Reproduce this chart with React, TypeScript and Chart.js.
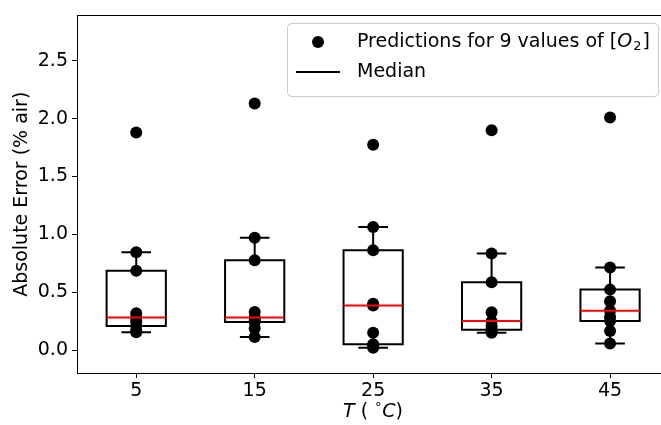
import { useEffect, useRef } from "react";
import { Chart, registerables } from "chart.js";

Chart.register(...registerables);

// ---- data ----
const temperatures = [5, 15, 25, 35, 45];
const predT5 = [1.88, 0.845, 0.686, 0.32, 0.283, 0.25, 0.208, 0.17, 0.154];
const predT15 = [2.13, 0.971, 0.777, 0.33, 0.283, 0.26, 0.243, 0.19, 0.114];
const predT25 = [1.775, 1.063, 0.863, 0.4, 0.386, 0.151, 0.051, 0.04, 0.02];
const predT35 = [1.9, 0.834, 0.586, 0.328, 0.251, 0.21, 0.177, 0.165, 0.151];
const predT45 = [2.01, 0.714, 0.523, 0.423, 0.34, 0.286, 0.251, 0.165, 0.057];
const predictions = [predT5, predT15, predT25, predT35, predT45];

const whiskerLow = [0.154, 0.114, 0.02, 0.151, 0.057];
const quartile1 = [0.208, 0.243, 0.051, 0.177, 0.251];
const medians = [0.283, 0.283, 0.386, 0.251, 0.34];
const quartile3 = [0.686, 0.777, 0.863, 0.586, 0.523];
const whiskerHigh = [0.845, 0.971, 1.063, 0.834, 0.714];

const yTicks = [0, 0.5, 1.0, 1.5, 2.0, 2.5];
const BOX_WIDTH = 5;

const FONT = '"DejaVu Sans", "Liberation Sans", sans-serif';
const FS = 19;

const boxPlugin = {
  id: "boxes",
  beforeDatasetsDraw(chart: any) {
    const { ctx, scales } = chart;
    const x = scales.x;
    const y = scales.y;
    ctx.save();
    ctx.strokeStyle = "#000";
    ctx.lineWidth = 2;
    temperatures.forEach((t, i) => {
      const l = x.getPixelForValue(t - BOX_WIDTH / 2);
      const r = x.getPixelForValue(t + BOX_WIDTH / 2);
      const c = x.getPixelForValue(t);
      const cl = x.getPixelForValue(t - BOX_WIDTH / 4);
      const cr = x.getPixelForValue(t + BOX_WIDTH / 4);
      const yq1 = y.getPixelForValue(quartile1[i]);
      const yq3 = y.getPixelForValue(quartile3[i]);
      const ylo = y.getPixelForValue(whiskerLow[i]);
      const yhi = y.getPixelForValue(whiskerHigh[i]);
      ctx.beginPath();
      ctx.rect(l, yq3, r - l, yq1 - yq3);
      ctx.moveTo(c, yq3);
      ctx.lineTo(c, yhi);
      ctx.moveTo(c, yq1);
      ctx.lineTo(c, ylo);
      ctx.moveTo(cl, yhi);
      ctx.lineTo(cr, yhi);
      ctx.moveTo(cl, ylo);
      ctx.lineTo(cr, ylo);
      ctx.stroke();
    });
    ctx.restore();
  },
  afterDatasetsDraw(chart: any) {
    const { ctx, scales } = chart;
    const x = scales.x;
    const y = scales.y;
    ctx.save();
    ctx.strokeStyle = "#ff0000";
    ctx.lineWidth = 2;
    temperatures.forEach((t, i) => {
      const l = x.getPixelForValue(t - BOX_WIDTH / 2);
      const r = x.getPixelForValue(t + BOX_WIDTH / 2);
      const ym = y.getPixelForValue(medians[i]);
      ctx.beginPath();
      ctx.moveTo(l, ym);
      ctx.lineTo(r, ym);
      ctx.stroke();
    });
    ctx.restore();
  },
  afterDraw(chart: any) {
    const { ctx, chartArea } = chart;
    ctx.save();
    // top spine
    ctx.strokeStyle = "#000";
    ctx.lineWidth = 1;
    ctx.beginPath();
    ctx.moveTo(chartArea.left, Math.round(chartArea.top) + 0.5);
    ctx.lineTo(chartArea.right, Math.round(chartArea.top) + 0.5);
    ctx.stroke();

    // legend
    const lx = 287.5, ly = 23.5, lw = 371, lh = 73, rad = 4;
    ctx.beginPath();
    ctx.moveTo(lx + rad, ly);
    ctx.lineTo(lx + lw - rad, ly);
    ctx.quadraticCurveTo(lx + lw, ly, lx + lw, ly + rad);
    ctx.lineTo(lx + lw, ly + lh - rad);
    ctx.quadraticCurveTo(lx + lw, ly + lh, lx + lw - rad, ly + lh);
    ctx.lineTo(lx + rad, ly + lh);
    ctx.quadraticCurveTo(lx, ly + lh, lx, ly + lh - rad);
    ctx.lineTo(lx, ly + rad);
    ctx.quadraticCurveTo(lx, ly, lx + rad, ly);
    ctx.closePath();
    ctx.fillStyle = "rgba(255,255,255,0.8)";
    ctx.fill();
    ctx.strokeStyle = "#cccccc";
    ctx.stroke();

    const row1 = 42, row2 = 72;
    ctx.fillStyle = "#000";
    ctx.beginPath();
    ctx.arc(318, row1, 6, 0, Math.PI * 2);
    ctx.fill();
    ctx.strokeStyle = "#000";
    ctx.lineWidth = 2;
    ctx.beginPath();
    ctx.moveTo(296, row2);
    ctx.lineTo(340, row2);
    ctx.stroke();

    ctx.textBaseline = "middle";
    ctx.textAlign = "left";
    ctx.font = `${FS}px ${FONT}`;
    let tx = 357;
    const s1 = "Predictions for 9 values of [";
    ctx.fillText(s1, tx, row1);
    tx += ctx.measureText(s1).width;
    ctx.font = `italic ${FS}px ${FONT}`;
    ctx.fillText("O", tx, row1);
    tx += ctx.measureText("O").width;
    ctx.font = `${Math.round(FS * 0.7)}px ${FONT}`;
    ctx.fillText("2", tx + 1, row1 + 5);
    tx += ctx.measureText("2").width + 2;
    ctx.font = `${FS}px ${FONT}`;
    ctx.fillText("]", tx, row1);
    ctx.fillText("Median", 357, row2);

    // x title: T ( °C)
    const parts: [string, string, number][] = [
      ["T", `italic ${FS}px ${FONT}`, 0],
      [" ( ", `${FS}px ${FONT}`, 0],
      ["\u2218", `${Math.round(FS * 0.7)}px ${FONT}`, -7],
      ["C", `italic ${FS}px ${FONT}`, 0],
      [")", `${FS}px ${FONT}`, 0],
    ];
    let total = 0;
    parts.forEach(([s, f]) => {
      ctx.font = f;
      total += ctx.measureText(s).width;
    });
    let px = 373 - total / 2;
    const ty = 412;
    parts.forEach(([s, f, dy]) => {
      ctx.font = f;
      ctx.fillText(s, px, ty + dy);
      px += ctx.measureText(s).width;
    });

    // y title
    ctx.save();
    ctx.translate(22, (chartArea.top + chartArea.bottom) / 2);
    ctx.rotate(-Math.PI / 2);
    ctx.textAlign = "center";
    ctx.font = `${FS}px ${FONT}`;
    ctx.fillText("Absolute Error (% air)", 0, 0);
    ctx.restore();

    ctx.restore();
  },
};

export default function App() {
  const ref = useRef<HTMLCanvasElement | null>(null);
  useEffect(() => {
    document.body.style.margin = "0";
    const canvas = ref.current!;
    const points: { x: number; y: number }[] = [];
    temperatures.forEach((t, i) => {
      predictions[i].forEach((v) => points.push({ x: t, y: v }));
    });
    const chart = new Chart(canvas, {
      type: "scatter",
      data: {
        datasets: [
          {
            label: "Predictions",
            data: points,
            pointRadius: 6,
            pointHoverRadius: 6,
            pointBackgroundColor: "#000",
            pointBorderWidth: 0,
            backgroundColor: "#000",
          },
        ],
      },
      options: {
        animation: false,
        responsive: false,
        events: [],
        layout: { autoPadding: false, padding: { top: 12.7, right: 0, left: 0, bottom: 0 } },
        plugins: { legend: { display: false }, tooltip: { enabled: false } },
        scales: {
          x: {
            type: "linear",
            min: 0,
            max: 49.3,
            afterBuildTicks: (s: any) => {
              s.ticks = temperatures.map((v) => ({ value: v }));
            },
            afterFit: (s: any) => {
              s.height = 52;
            },
            ticks: {
              color: "#000",
              font: { family: FONT, size: FS },
              padding: 2,
              maxRotation: 0,
              autoSkip: false,
              callback: (v: any) => String(v),
            },
            grid: {
              display: true,
              drawOnChartArea: false,
              drawTicks: true,
              tickLength: 5,
              color: "#000",
            },
            border: { display: true, color: "#000", width: 1 },
          },
          y: {
            type: "linear",
            min: -0.197,
            max: 2.891,
            afterBuildTicks: (s: any) => {
              s.ticks = yTicks.map((v) => ({ value: v }));
            },
            afterFit: (s: any) => {
              s.width = 77;
            },
            ticks: {
              color: "#000",
              font: { family: FONT, size: FS },
              padding: 4,
              autoSkip: false,
              callback: (v: any) => Number(v).toFixed(1),
            },
            grid: {
              display: true,
              drawOnChartArea: false,
              drawTicks: true,
              tickLength: 5,
              color: "#000",
            },
            border: { display: true, color: "#000", width: 1 },
          },
        },
      },
      plugins: [boxPlugin],
    });
    return () => chart.destroy();
  }, []);
  return (
    <canvas
      ref={ref}
      width={661}
      height={425}
      style={{ display: "block", width: 661, height: 425 }}
    />
  );
}
